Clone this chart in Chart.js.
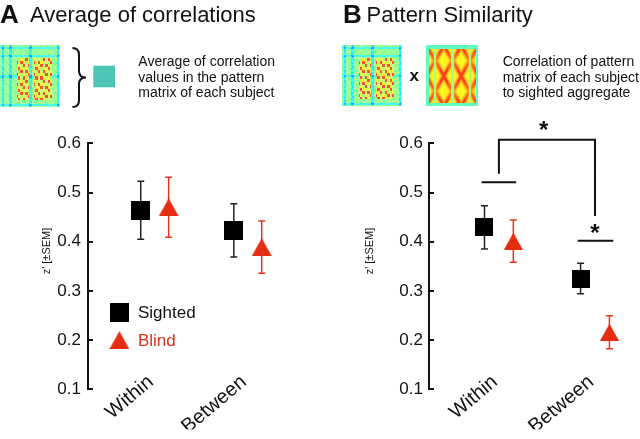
<!DOCTYPE html>
<html><head><meta charset="utf-8">
<script src="https://cdn.jsdelivr.net/npm/chart.js@4.4.1/dist/chart.umd.min.js"></script>
<style>
html,body{margin:0;padding:0;background:#fff;}
#wrap{position:relative;width:640px;height:439px;overflow:hidden;font-family:"Liberation Sans",Arial,Helvetica,sans-serif;color:#111;}
.t{position:absolute;white-space:nowrap;}
canvas.c{position:absolute;top:0;}
canvas.hm{position:absolute;}
</style></head><body>
<div id="wrap">
  <canvas id="chartA" class="c" style="left:0" width="320" height="439"></canvas>
  <canvas id="chartB" class="c" style="left:320px" width="320" height="439"></canvas>

  <div class="t" style="left:0;top:0;font-weight:bold;font-size:26px;line-height:29px;">A</div>
  <div class="t" style="left:30px;top:3px;font-size:22px;line-height:24.6px;">Average of correlations</div>
  <div class="t" style="left:343px;top:0;font-weight:bold;font-size:26px;line-height:29px;">B</div>
  <div class="t" style="left:366.5px;top:3px;font-size:22px;line-height:24.6px;">Pattern Similarity</div>

  <canvas id="hm1" class="hm" style="left:0;top:45px" width="60" height="62"></canvas>
  <svg style="position:absolute;left:0;top:0" width="130" height="120">
    <path d="M72.5,48 Q79,48 79,55 L79,71 Q79,77.5 86,77.5 Q79,77.5 79,84 L79,100 Q79,107 72.5,107" fill="none" stroke="#111" stroke-width="2"/>
    <rect x="93.3" y="65.7" width="21.7" height="21.6" fill="#4cc5b5"/>
  </svg>
  <div class="t" style="left:138.3px;top:54px;font-size:14px;line-height:15.5px;">Average of correlation<br>values in the pattern<br>matrix of each subject</div>

  <canvas id="hm2" class="hm" style="left:341.7px;top:45px" width="60" height="61"></canvas>
  <div class="t" style="left:409.5px;top:65.7px;font-weight:bold;font-size:17px;line-height:19px;">x</div>
  <canvas id="hm3" class="hm" style="left:426px;top:45px" width="52" height="61"></canvas>
  <div class="t" style="left:502.7px;top:54px;font-size:14px;line-height:15.5px;">Correlation of pattern<br>matrix of each subject<br>to sighted aggregate</div>
</div>
<script>
// ---------------- data ----------------
const categories = ['Within', 'Between'];
const groupNames = ['Sighted', 'Blind'];
const yTickValues = [0.1, 0.2, 0.3, 0.4, 0.5, 0.6];

// Panel A: average of correlations
const avgSightedMean = [0.464, 0.423];
const avgSightedSem  = [0.059, 0.054];
const avgBlindMean   = [0.470, 0.389];
const avgBlindSem    = [0.061, 0.053];

// Panel B: pattern similarity
const simSightedMean = [0.429, 0.325];
const simSightedSem  = [0.044, 0.031];
const simBlindMean   = [0.401, 0.216];
const simBlindSem    = [0.043, 0.0335];

// Panel B significance annotations (y values)
const sigWithinLineY = 0.521;
const sigBracketTopY = 0.607;
const sigBracketLeftEndY = 0.538;
const sigBracketRightEndY = 0.452;
const sigBetweenLineY = 0.402;
const sigStarY = [0.635, 0.427];

// ---------------- styles ----------------
const FONT = '"Liberation Sans", Arial, Helvetica, sans-serif';
const RED = '#e52d12';
const RED_BAR = '#e2371f';
const groupOffset = 0.15;
const labelShift = 0.04;
const labelLift = 22;

function makeSquare(s) {
  const c = document.createElement('canvas'); c.width = s; c.height = s;
  const g = c.getContext('2d'); g.fillStyle = '#000'; g.fillRect(0, 0, s, s); return c;
}
function makeTri(w, h, color) {
  const c = document.createElement('canvas'); c.width = w; c.height = h;
  const g = c.getContext('2d'); g.fillStyle = color;
  g.beginPath(); g.moveTo(w / 2, 0); g.lineTo(w, h); g.lineTo(0, h); g.closePath(); g.fill(); return c;
}

const errorBars = {
  id: 'errorBars',
  beforeDatasetsDraw(chart) {
    const { ctx, scales: { x, y } } = chart;
    chart.data.datasets.forEach((ds) => {
      if (!ds.sem) return;
      ctx.save();
      ctx.strokeStyle = ds.errorColor; ctx.lineWidth = 1.5;
      ds.data.forEach((p, i) => {
        const px = x.getPixelForValue(p.x);
        const yt = y.getPixelForValue(p.y + ds.sem[i]);
        const yb = y.getPixelForValue(p.y - ds.sem[i]);
        ctx.beginPath();
        ctx.moveTo(px, yt); ctx.lineTo(px, yb);
        ctx.moveTo(px - 3.5, yt); ctx.lineTo(px + 3.5, yt);
        ctx.moveTo(px - 3.5, yb); ctx.lineTo(px + 3.5, yb);
        ctx.stroke();
      });
      ctx.restore();
    });
  }
};

// lets the rotated category labels start a little above the bottom of the y axis, as in the figure
const liftLabels = {
  id: 'liftLabels',
  afterLayout(chart) { chart.scales.x.top = chart.chartArea.bottom - labelLift; }
};

function axisTitlePlugin(xOffset, yValue) {
  return {
    id: 'yTitle',
    afterDraw(chart) {
      const { ctx, chartArea, scales: { y } } = chart;
      ctx.save();
      ctx.translate(chartArea.left - xOffset, y.getPixelForValue(yValue));
      ctx.rotate(-Math.PI / 2);
      ctx.font = '11px ' + FONT; ctx.fillStyle = '#111';
      ctx.textAlign = 'center'; ctx.textBaseline = 'middle';
      ctx.fillText("z' [\u00B1SEM]", 0, 0);
      ctx.restore();
    }
  };
}

function makeDatasets(sMean, sSem, bMean, bSem, sq, tri) {
  return [
    { label: groupNames[0], data: sMean.map((m, i) => ({ x: i + 1 - groupOffset, y: m })),
      sem: sSem, errorColor: '#222', pointStyle: sq, pointRadius: 10 },
    { label: groupNames[1], data: bMean.map((m, i) => ({ x: i + 1 + groupOffset, y: m })),
      sem: bSem, errorColor: RED_BAR, pointStyle: tri, pointRadius: 10 }
  ];
}

function makeOptions(xmin, xmax, padLeft, yLabelPad) {
  return {
    responsive: false, animation: false, devicePixelRatio: 1, events: [],
    layout: { padding: { left: padLeft, right: 0, top: 143.3, bottom: 9.7 } },
    plugins: { legend: { display: false }, tooltip: { enabled: false } },
    scales: {
      x: {
        type: 'linear', min: xmin, max: xmax,
        afterBuildTicks: (s) => { s.ticks = categories.map((c, i) => ({ value: i + 1 - labelShift })); },
        afterFit: (s) => { s.height = 40; },
        ticks: {
          callback: (v) => categories[Math.round(v + labelShift) - 1] || '',
          minRotation: 40, maxRotation: 40, autoSkip: false, padding: 3,
          font: { family: FONT, size: 20 }, color: '#111'
        },
        grid: { display: false, drawTicks: false }, border: { display: false }
      },
      y: {
        min: 0.1, max: 0.6,
        afterBuildTicks: (s) => { s.ticks = yTickValues.map(v => ({ value: v })); },
        afterFit: (s) => { s.width = 48; },
        ticks: { callback: (v) => v.toFixed(1), padding: yLabelPad, font: { family: FONT, size: 17 }, color: '#111' },
        grid: { display: true, drawOnChartArea: false, drawTicks: true, tickLength: -5, color: '#111', lineWidth: 2 },
        border: { display: true, color: '#111', width: 2 }
      }
    }
  };
}

// Panel A legend
const legendA = {
  id: 'legendA',
  afterDatasetsDraw(chart) {
    const { ctx, scales: { x, y } } = chart;
    const ds = chart.data.datasets;
    const mx = x.getPixelForValue(0.62), tx = x.getPixelForValue(0.82);
    const rows = [0.256, 0.200];
    const colors = ['#111', '#e0301e'];
    ctx.save();
    ctx.font = '17px ' + FONT; ctx.textBaseline = 'middle';
    ds.forEach((d, i) => {
      const py = y.getPixelForValue(rows[i]);
      const img = d.pointStyle;
      ctx.drawImage(img, mx - img.width / 2, py - img.height / 2);
      ctx.fillStyle = colors[i];
      ctx.fillText(d.label, tx, py + 1);
    });
    ctx.restore();
  }
};

// Panel B significance
const sigB = {
  id: 'sigB',
  afterDraw(chart) {
    const { ctx, scales: { x, y } } = chart;
    const X = v => x.getPixelForValue(v), Y = v => y.getPixelForValue(v);
    ctx.save();
    ctx.strokeStyle = '#111'; ctx.lineWidth = 2; ctx.lineJoin = 'miter';
    ctx.beginPath();
    ctx.moveTo(X(1 - 0.18), Y(sigWithinLineY)); ctx.lineTo(X(1 + 0.18), Y(sigWithinLineY));
    ctx.moveTo(X(1.82), Y(sigBetweenLineY)); ctx.lineTo(X(2.19), Y(sigBetweenLineY));
    ctx.stroke();
    ctx.beginPath();
    ctx.moveTo(X(1), Y(sigBracketLeftEndY)); ctx.lineTo(X(1), Y(sigBracketTopY));
    ctx.lineTo(X(2), Y(sigBracketTopY)); ctx.lineTo(X(2), Y(sigBracketRightEndY));
    ctx.stroke();
    ctx.fillStyle = '#111'; ctx.font = 'bold 24px ' + FONT; ctx.textAlign = 'center'; ctx.textBaseline = 'alphabetic';
    const starX = [1.465, 2.0];
    sigStarY.forEach((sy, i) => ctx.fillText('*', X(starX[i]), Y(sy) + 12.4));
    ctx.restore();
  }
};

const sqA = makeSquare(19), triA = makeTri(20, 18, RED);
const sqB = makeSquare(18), triB = makeTri(19, 17, RED);

new Chart(document.getElementById('chartA'), {
  type: 'scatter',
  data: { datasets: makeDatasets(avgSightedMean, avgSightedSem, avgBlindMean, avgBlindSem, sqA, triA) },
  options: makeOptions(0.2835, 2.658, 40, 12),
  plugins: [liftLabels, errorBars, legendA, axisTitlePlugin(40.8, 0.381)]
});

new Chart(document.getElementById('chartB'), {
  type: 'scatter',
  data: { datasets: makeDatasets(simSightedMean, simSightedSem, simBlindMean, simBlindSem, sqB, triB) },
  options: makeOptions(0.2727, 2.3535, 61, 11),
  plugins: [liftLabels, errorBars, sigB, axisTitlePlugin(59.5, 0.381)]
});

// ---------------- decorative pattern-matrix thumbnails ----------------
function jet(v) {
  const c = t => Math.max(0, Math.min(1, t));
  return [c(1.5 - Math.abs(4 * v - 3)), c(1.5 - Math.abs(4 * v - 2)), c(1.5 - Math.abs(4 * v - 1))];
}
function paint(id, fn, wash) {
  const cv = document.getElementById(id), g = cv.getContext('2d');
  const w = cv.width, h = cv.height, im = g.createImageData(w, h);
  for (let py = 0; py < h; py++) for (let px = 0; px < w; px++) {
    const v = fn(px / w, py / h);
    const [r, gg, b] = jet(v);
    const k = (py * w + px) * 4;
    im.data[k] = 255 * (r * (1 - wash) + wash);
    im.data[k + 1] = 255 * (gg * (1 - wash) + wash);
    im.data[k + 2] = 255 * (b * (1 - wash) + wash);
    im.data[k + 3] = 255;
  }
  g.putImageData(im, 0, 0);
}
function subjectMatrix(m1, m2) {
  return (u, v) => {
    const cu = Math.floor(u * 30), cv = Math.floor(v * 30);
    let val = 0.5 + 0.06 * (((cu * m1 + cv * m2) % 5) / 4 - 0.5);
    const lines = [0.04, 0.17, 0.5, 0.96];
    if (lines.some(l => Math.abs(u - l) < 0.022)) val -= 0.14;
    if (lines.some(l => Math.abs(v - l) < 0.02)) val -= 0.1;
    const inBlk = ((u > 0.28 && u < 0.47) || (u > 0.55 && u < 0.86)) && v > 0.2 && v < 0.88;
    if (inBlk) {
      const a = Math.floor(u * 24), b = Math.floor(v * 20);
      const k = (a * 3 + b * 5) % 7;
      val = k < 2 ? 0.84 : (k < 4 ? 0.64 : 0.54);
    }
    return val;
  };
}
paint('hm1', subjectMatrix(7, 13), 0.2);
paint('hm2', subjectMatrix(11, 7), 0.2);
// sighted aggregate matrix (smooth)
paint('hm3', (u, v) => {
  const tu = ((u * 3) % 1) * 2 - 1, tv = ((v * 2) % 1) * 2 - 1;
  const d = Math.abs(Math.abs(tu) - Math.abs(tv));
  let val = 0.63 + 0.22 * Math.exp(-d * d / 0.09) * (0.4 + 0.6 * Math.min(1, Math.abs(tu) + 0.3));
  if (Math.abs(tu) < 0.12) val = Math.min(val, 0.52);
  if (u < 0.05 || u > 0.95 || v < 0.05 || v > 0.95) val = 0.45;
  return val;
}, 0.12);
</script>
</body></html>
